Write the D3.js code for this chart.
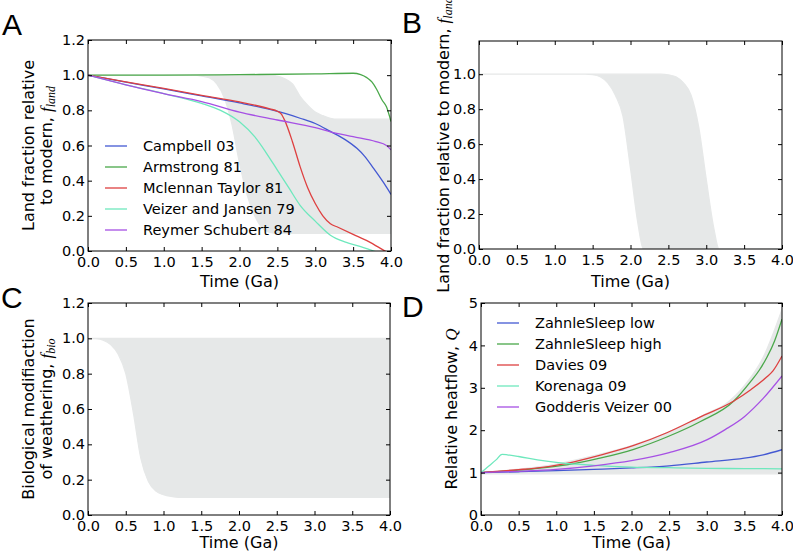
<!DOCTYPE html>
<html><head><meta charset="utf-8">
<script src="https://cdn.jsdelivr.net/npm/d3@7"></script>
<style>body{margin:0;background:#fff}svg{display:block}</style>
</head><body><svg id="c" width="793" height="553"></svg>
<script>
// ---------- data ----------
const timeTicks = [0, 0.5, 1, 1.5, 2, 2.5, 3, 3.5, 4];
const fracTicks = [0, 0.2, 0.4, 0.6, 0.8, 1.0, 1.2];
const fracTicksB = [0, 0.2, 0.4, 0.6, 0.8, 1.0];
const heatTicks = [0, 1, 2, 3, 4, 5];

// Panel A: land fraction models [time Ga, f_land]
const campbell03 = [[0,1],[0.5,0.96],[1,0.922],[1.5,0.882],[2,0.842],[2.4,0.805],[2.6,0.782],[2.8,0.755],[3,0.725],[3.2,0.68],[3.4,0.632],[3.55,0.584],[3.65,0.54],[3.77,0.47],[3.9,0.39],[4,0.322]];
const armstrong81 = [[0,1],[1,1.0],[2,1.003],[3,1.007],[3.5,1.011],[3.6,1.003],[3.68,0.986],[3.75,0.96],[3.81,0.92],[3.88,0.86],[3.94,0.82],[4,0.736]];
const mclennanTaylor81 = [[0,1],[0.5,0.962],[1,0.925],[1.5,0.885],[2,0.848],[2.4,0.808],[2.5,0.795],[2.55,0.78],[2.6,0.74],[2.7,0.62],[2.8,0.48],[2.9,0.36],[3.0,0.27],[3.1,0.2],[3.2,0.155],[3.3,0.135],[3.5,0.095],[3.7,0.055],[3.9,0.005],[4,-0.02]];
const veizerJansen79 = [[0,1],[0.5,0.945],[1,0.895],[1.5,0.84],[1.75,0.8],[2,0.735],[2.2,0.65],[2.35,0.56],[2.5,0.46],[2.65,0.36],[2.8,0.26],[3,0.17],[3.2,0.09],[3.4,0.05],[3.6,0.025],[3.77,0.0],[4,-0.03]];
const reymerSchubert84 = [[0,1],[0.5,0.945],[1,0.895],[1.5,0.85],[2,0.79],[2.5,0.745],[3,0.702],[3.2,0.678],[3.5,0.65],[3.8,0.622],[3.94,0.6],[4,0.575]];
const landNames = ["Campbell 03", "Armstrong 81", "Mclennan Taylor 81", "Veizer and Jansen 79", "Reymer Schubert 84"];

// Panel A shaded range
const bandATime  = [0, 1.4, 1.5, 1.6, 1.7, 1.8, 1.9, 2.0, 2.1, 2.2, 2.3, 2.4, 2.5, 2.6, 2.7, 2.8, 2.9, 3.0, 3.1, 3.2, 3.3, 4.0];
const bandALower = [1, 1, 0.995, 0.985, 0.95, 0.87, 0.72, 0.5, 0.32, 0.2, 0.13, 0.105, 0.1, 0.1, 0.1, 0.1, 0.1, 0.1, 0.1, 0.1, 0.1, 0.1];
const bandAUpper = [1, 1, 1, 1, 1, 1, 1, 1, 1, 1, 1, 1, 0.995, 0.98, 0.95, 0.88, 0.83, 0.79, 0.77, 0.755, 0.75, 0.75];

// Panel B shaded range
const bandBTime  = [0, 1.4, 1.5, 1.6, 1.7, 1.8, 1.9, 2.0, 2.1, 2.17, 2.3, 2.4, 2.5, 2.6, 2.7, 2.8, 2.9, 3.0, 3.1, 3.17, 3.3, 4.0];
const bandBLower = [1, 1, 0.997, 0.985, 0.95, 0.88, 0.76, 0.46, 0.14, 0, 0, 0, 0, 0, 0, 0, 0, 0, 0, 0, 0, 0];
const bandBUpper = [1, 1, 1, 1, 1, 1, 1, 1, 1, 1, 1, 1, 0.997, 0.985, 0.95, 0.88, 0.7, 0.4, 0.12, 0, 0, 0];

// Panel C shaded range
const bandCTime  = [0, 0.1, 0.2, 0.3, 0.4, 0.5, 0.6, 0.7, 0.8, 0.9, 1.0, 1.1, 1.2, 4.0];
const bandCLower = [1, 0.998, 0.99, 0.965, 0.91, 0.8, 0.58, 0.32, 0.19, 0.135, 0.115, 0.105, 0.1, 0.1];
const bandCUpper = [1, 1, 1, 1, 1, 1, 1, 1, 1, 1, 1, 1, 1, 1];

// Panel D: relative heat flow models [time Ga, Q]
const zahnleSleepLow = [[0,1],[0.5,1.02],[1,1.045],[1.5,1.075],[2,1.11],[2.5,1.16],[3,1.25],[3.5,1.34],[3.75,1.42],[4,1.54]];
const zahnleSleepHigh = [[0,1],[0.5,1.06],[0.7,1.09],[1.14,1.18],[1.58,1.34],[2.03,1.55],[2.47,1.84],[2.91,2.2],[3.36,2.69],[3.58,3.14],[3.7,3.42],[3.8,3.72],[3.9,4.1],[4,4.62]];
const davies09 = [[0,1],[0.5,1.07],[0.7,1.1],[1.14,1.22],[1.58,1.41],[2.03,1.64],[2.47,1.94],[2.91,2.31],[3.36,2.69],[3.58,2.95],[3.8,3.26],[3.88,3.4],[4,3.75]];
const korenaga09 = [[0,1],[0.1,1.15],[0.2,1.3],[0.28,1.43],[0.35,1.42],[0.5,1.38],[0.75,1.3],[1,1.24],[1.5,1.17],[2,1.13],[2.5,1.115],[3,1.1],[3.5,1.095],[4,1.09]];
const godderisVeizer00 = [[0,1],[0.5,1.03],[1,1.075],[1.5,1.16],[2,1.28],[2.5,1.47],[3,1.77],[3.25,2.02],[3.5,2.32],[3.75,2.75],[4,3.28]];
const heatNames = ["ZahnleSleep low", "ZahnleSleep high", "Davies 09", "Korenaga 09", "Godderis Veizer 00"];

// Panel D shaded range
const bandDTime  = [0, 0.5, 1, 1.5, 2, 2.5, 3, 3.25, 3.5, 3.75, 4];
const bandDLower = [0.97, 0.97, 0.97, 0.97, 0.97, 0.97, 0.97, 0.97, 0.97, 0.97, 0.97];
const bandDUpper = [1.0, 1.08, 1.2, 1.4, 1.64, 1.96, 2.4, 2.62, 3.05, 3.72, 4.85];

const seriesColors = ["#4358d2", "#4aa84a", "#de4040", "#6ee8bd", "#a650e4"];

// ---------- drawing ----------
const svg = d3.select("#c");
const FONT = "DejaVu Sans, Bitstream Vera Sans, sans-serif";
const BAND = "#e6e8e8";

function panel(cfg) {
  const x = d3.scaleLinear().domain([0, 4]).range([cfg.l, cfg.r]);
  const y = d3.scaleLinear().domain(cfg.yDomain).range([cfg.b, cfg.t]);
  const g = svg.append("g");
  const cid = "clip" + cfg.id;
  svg.append("defs").append("clipPath").attr("id", cid)
    .append("rect").attr("x", cfg.l).attr("y", cfg.t).attr("width", cfg.r - cfg.l).attr("height", cfg.b - cfg.t);
  const plot = g.append("g").attr("clip-path", `url(#${cid})`);

  if (cfg.band) {
    const [bt, lo, hi] = cfg.band;
    const pts = bt.map((t, i) => ({t, lo: lo[i], hi: hi[i]}));
    const area = d3.area().x(d => x(d.t)).y0(d => y(d.lo)).y1(d => y(d.hi)).curve(d3.curveMonotoneX);
    plot.append("path").attr("d", area(pts)).attr("fill", BAND)
      .attr("stroke", BAND).attr("stroke-width", 1.2);
  }
  const line = d3.line().x(d => x(d[0])).y(d => y(d[1])).curve(d3.curveMonotoneX);
  (cfg.lines || []).forEach((s, i) => {
    plot.append("path").attr("d", line(s)).attr("fill", "none")
      .attr("stroke", seriesColors[i]).attr("stroke-width", 1.3);
  });

  // axes
  const fx = d3.format(".1f");
  const ax = (gen, tx, ty) => g.append("g").attr("transform", `translate(${tx},${ty})`).call(gen)
    .call(s => s.select(".domain").remove())
    .call(s => s.selectAll("text").attr("font-family", FONT).attr("font-size", 14.5).attr("fill", "#000"));
  ax(d3.axisBottom(x).tickValues(timeTicks).tickSize(-4).tickPadding(6).tickFormat(fx), 0, cfg.b);
  ax(d3.axisTop(x).tickValues(timeTicks).tickSize(-4).tickFormat(""), 0, cfg.t);
  ax(d3.axisLeft(y).tickValues(cfg.yTicks).tickSize(-4).tickPadding(3).tickFormat(cfg.yFmt), cfg.l, 0);
  ax(d3.axisRight(y).tickValues(cfg.yTicks).tickSize(-4).tickFormat(""), cfg.r, 0);

  g.append("rect").attr("x", cfg.l).attr("y", cfg.t).attr("width", cfg.r - cfg.l).attr("height", cfg.b - cfg.t)
    .attr("fill", "none").attr("stroke", "#000").attr("stroke-width", 1);

  // x label
  g.append("text").attr("x", (cfg.l + cfg.r) / 2).attr("y", cfg.xlabY).attr("text-anchor", "middle")
    .attr("font-family", FONT).attr("font-size", 16).text("Time (Ga)");

  // y label lines
  const cy = (cfg.t + cfg.b) / 2;
  cfg.ylab.forEach(lab => {
    const t = g.append("text").attr("transform", `translate(${lab.x},${cy}) rotate(-90)`)
      .attr("text-anchor", "middle").attr("font-family", FONT).attr("font-size", 16);
    t.append("tspan").text(lab.text);
    if (lab.math) {
      t.append("tspan").attr("font-family", "Liberation Serif, DejaVu Serif, serif").attr("font-style", "italic")
        .attr("font-size", 17).text(lab.math);
      if (lab.sub) {
        t.append("tspan").attr("font-family", "Liberation Serif, DejaVu Serif, serif").attr("font-style", "italic")
          .attr("font-size", 12).attr("dy", 3).text(lab.sub);
      }
    }
  });

  // panel letter
  svg.append("text").attr("x", cfg.letter[0]).attr("y", cfg.letter[1])
    .attr("font-family", "Liberation Sans, Arial, sans-serif").attr("font-size", 30).text(cfg.letter[2]);

  // legend
  if (cfg.legend) {
    const lg = cfg.legend;
    lg.names.forEach((n, i) => {
      const yy = lg.y + i * 21;
      g.append("line").attr("x1", lg.x).attr("x2", lg.x + 22).attr("y1", yy).attr("y2", yy)
        .attr("stroke", seriesColors[i]).attr("stroke-width", 1.3);
      g.append("text").attr("x", lg.x + 38).attr("y", yy).attr("dy", "0.36em")
        .attr("font-family", FONT).attr("font-size", 14.5).text(n);
    });
  }
}

panel({id: "A", l: 88, r: 391, t: 40, b: 251, yDomain: [0, 1.2], yTicks: fracTicks, yFmt: d3.format(".1f"),
  band: [bandATime, bandALower, bandAUpper],
  lines: [campbell03, armstrong81, mclennanTaylor81, veizerJansen79, reymerSchubert84],
  xlabY: 287,
  ylab: [{x: 34, text: "Land fraction relative"}, {x: 52, text: "to modern, ", math: "f", sub: "land"}],
  letter: [2, 35, "A"],
  legend: {x: 105, y: 146, names: landNames}});

panel({id: "B", l: 479, r: 782, t: 41, b: 249, yDomain: [0, 1.19], yTicks: fracTicksB, yFmt: d3.format(".1f"),
  band: [bandBTime, bandBLower, bandBUpper],
  xlabY: 287,
  ylab: [{x: 449, text: "Land fraction relative to modern, ", math: "f", sub: "land"}],
  letter: [402, 33, "B"]});

panel({id: "C", l: 88, r: 390, t: 303, b: 515, yDomain: [0, 1.2], yTicks: fracTicks, yFmt: d3.format(".1f"),
  band: [bandCTime, bandCLower, bandCUpper],
  xlabY: 548,
  ylab: [{x: 34, text: "Biological modifiaction"}, {x: 52, text: "of weathering, ", math: "f", sub: "bio"}],
  letter: [1, 308, "C"]});

panel({id: "D", l: 481, r: 782, t: 303, b: 515, yDomain: [0, 5], yTicks: heatTicks, yFmt: d3.format("d"),
  band: [bandDTime, bandDLower, bandDUpper],
  lines: [zahnleSleepLow, zahnleSleepHigh, davies09, korenaga09, godderisVeizer00],
  xlabY: 548,
  ylab: [{x: 457, text: "Relative heatflow, ", math: "Q"}],
  letter: [402, 317, "D"],
  legend: {x: 497, y: 323, names: heatNames}});
</script>
</body></html>
